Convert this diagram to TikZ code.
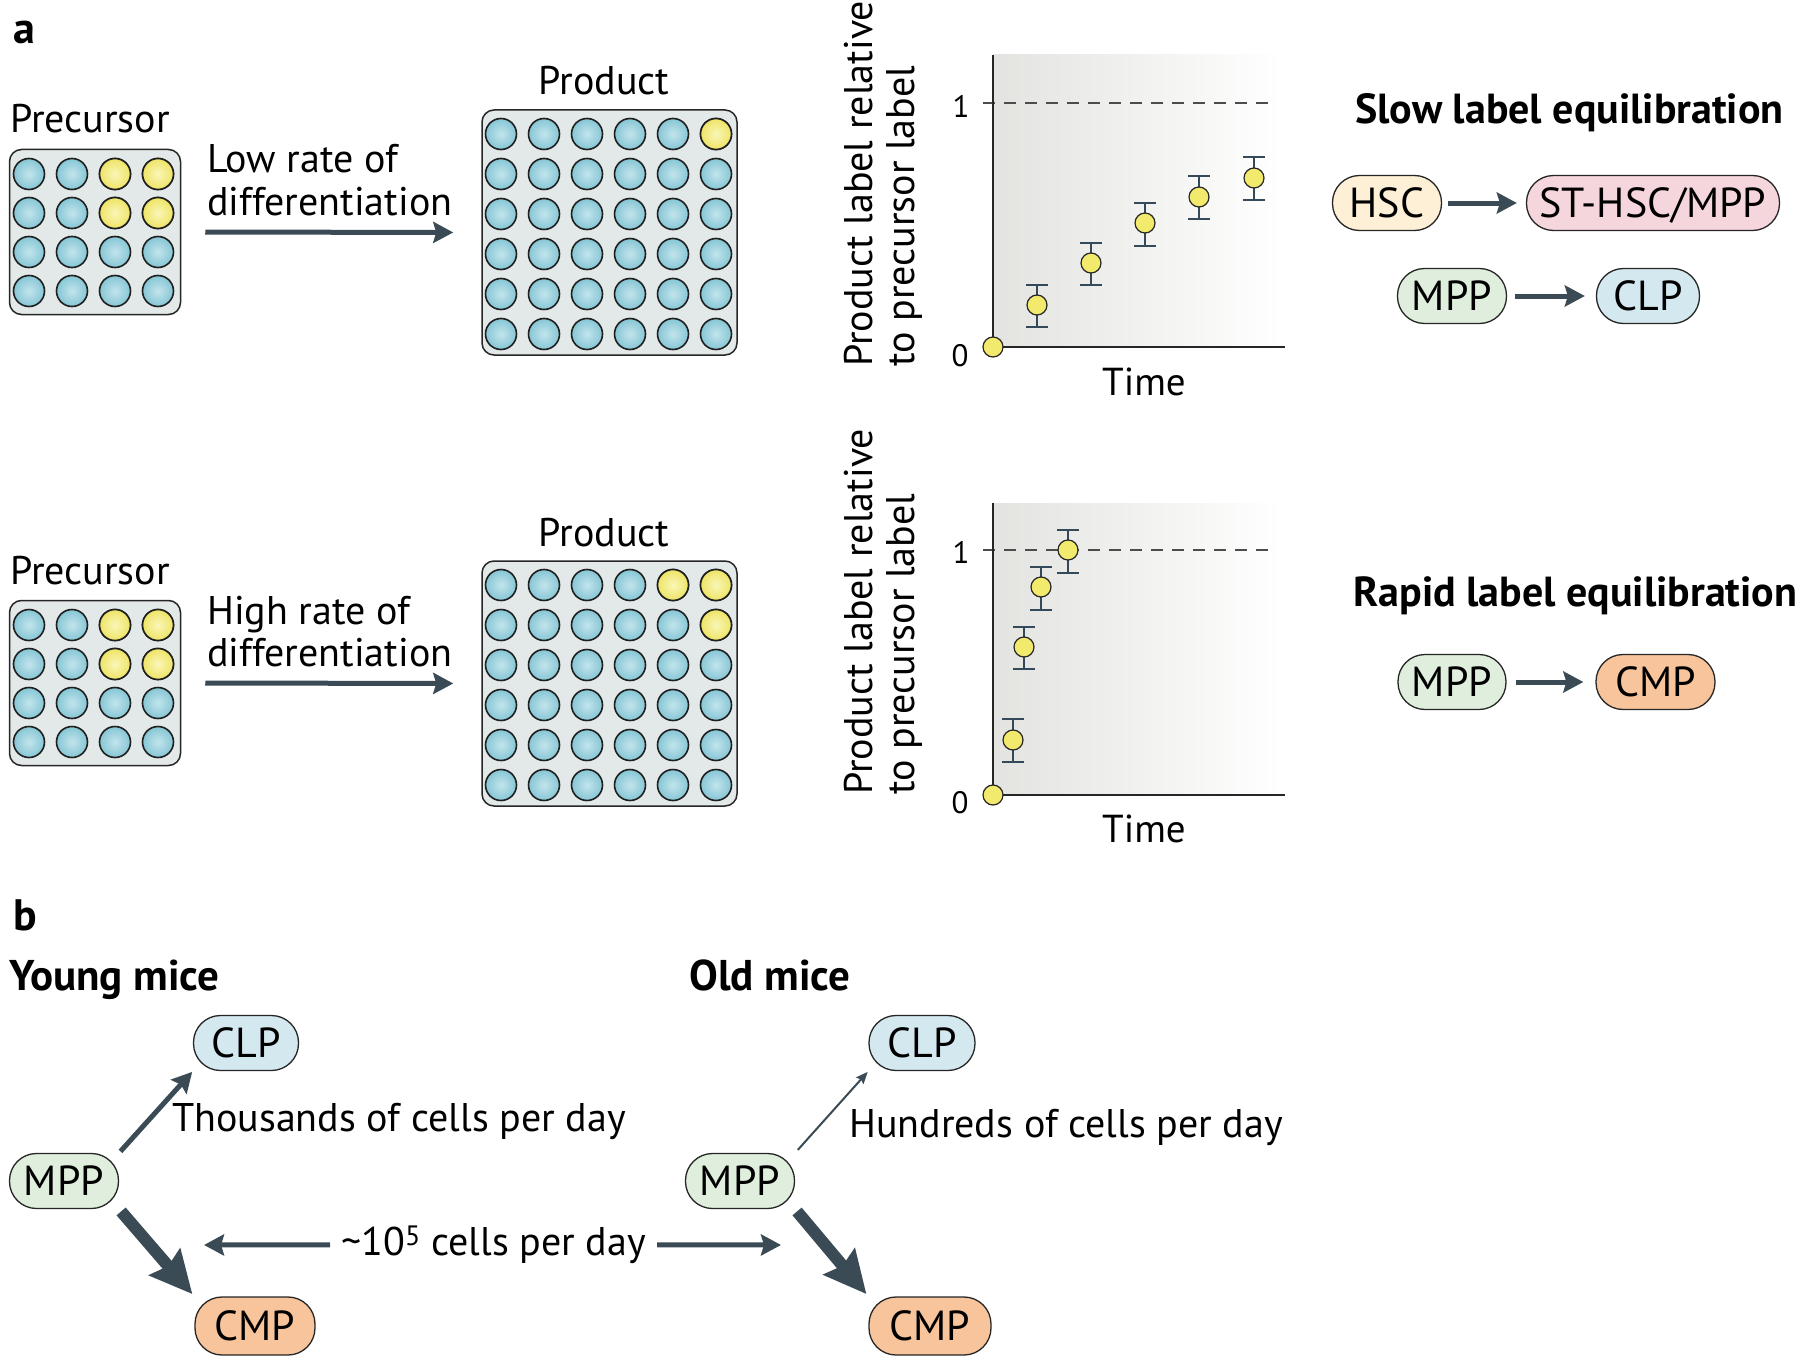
\documentclass[tikz,border=0pt]{standalone}
\usepackage{fontspec}
\setmainfont{PT Sans}
\usetikzlibrary{arrows.meta}
\definecolor{cellblue}{HTML}{86C6D5}
\definecolor{cellbluehi}{HTML}{C2E4EC}
\definecolor{cellyel}{HTML}{EEE466}
\definecolor{cellyelhi}{HTML}{FAF6B8}
\definecolor{boxfill}{HTML}{E3E8E9}
\definecolor{arrowc}{HTML}{3A4B56}
\definecolor{ebarc}{HTML}{34495A}
\definecolor{chartbg}{HTML}{E3E3E0}
\definecolor{ptyel}{HTML}{F2EA6C}
\definecolor{hscfill}{HTML}{FDF0D6}
\definecolor{stfill}{HTML}{F5D6DC}
\definecolor{mppfill}{HTML}{DFEEDD}
\definecolor{clpfill}{HTML}{D3E8EF}
\definecolor{cmpfill}{HTML}{F7C49C}
\newcommand{\fsz}[1]{\fontsize{#1pt}{#1pt}\selectfont}
\newcommand{\cellb}[2]{\shade[inner color=cellbluehi,outer color=cellblue] (#1,#2) circle (15.5pt); \draw[cellrim] (#1,#2) circle (15.5pt);}
\newcommand{\celly}[2]{\shade[inner color=cellyelhi,outer color=cellyel] (#1,#2) circle (15.5pt); \draw[cellrim] (#1,#2) circle (15.5pt);}
\newcommand{\errbar}[3]{\draw[ebarst] (#1,#2) -- (#1,#3) (#1-11,#2) -- (#1+11,#2) (#1-11,#3) -- (#1+11,#3);}
\tikzset{
 txt/.style={inner sep=0pt, font=\fsz{40}},
 bld/.style={inner sep=0pt, font=\fsz{42}\bfseries},
 boxst/.style={draw=black!85, line width=1.5pt, fill=boxfill, rounded corners=12pt, inner sep=0pt},
 cellrim/.style={draw=black!88, line width=1.6pt},
 arr/.style={draw=arrowc, line width=5pt, -{Stealth[length=20pt,width=21pt,inset=3pt]}},
 arrthick/.style={draw=arrowc, line width=12pt, -{Stealth[length=42pt,width=40pt,inset=5pt]}},
 arrthin/.style={draw=arrowc, line width=2pt, -{Stealth[length=12pt,width=10pt,inset=2pt]}},
 pill/.style={draw=black!85, line width=1.3pt, rounded corners=27pt, minimum height=55pt, inner sep=0pt, font=\fsz{42}, text height=29pt, text depth=0pt},
 dot/.style={circle, draw=black!85, fill=ptyel, line width=1.2pt, minimum size=20pt, inner sep=0pt},
 ebarst/.style={draw=ebarc, line width=2.5pt},
 axisst/.style={draw=black!85, line width=1.6pt},
 dashst/.style={draw=black!70, line width=1.3pt, dash pattern=on 12pt off 9pt},
}
\begin{document}
\begin{tikzpicture}[x=1pt,y=-1pt]
\useasboundingbox[fill=white] (0,0) rectangle (1800,1362);

% ---------- panel a label
\node[bld, font=\fsz{44}\bfseries, anchor=base west] (la) at (13,44) {a};

% ---------- boxes
\node[boxst, minimum width=171pt, minimum height=165pt] (pbox1) at (95,232) {};
\node[boxst, minimum width=255pt, minimum height=245pt] (qbox1) at (609.5,232.5) {};
\node[boxst, minimum width=171pt, minimum height=165pt] (pbox2) at (95,683) {};
\node[boxst, minimum width=255pt, minimum height=245pt] (qbox2) at (609.5,683.5) {};

\foreach \dy in {0,451}{
  \foreach \i in {0,...,3}{\foreach \j in {0,...,3}{\cellb{29+43*\i}{174+39*\j+\dy}}}
  \foreach \i in {0,...,5}{\foreach \j in {0,...,5}{\cellb{501+43*\i}{134+40*\j+\dy}}}
  \celly{115}{174+\dy}\celly{158}{174+\dy}\celly{115}{213+\dy}\celly{158}{213+\dy}
}
\celly{716}{134}
\celly{673}{585}\celly{716}{585}\celly{716}{625}

\node[txt, anchor=base west] (prec1) at (10,133) {Precursor};
\node[txt, anchor=base] (prod1) at (604,95) {Product};
\node[txt, anchor=base west] (low1) at (207,173) {Low rate of};
\node[txt, anchor=base west] (dif1) at (207,215) {differentiation};
\draw[arr, shorten <=24pt, shorten >=28pt] (pbox1.east) -- (qbox1.west);

\node[txt, anchor=base west] (prec2) at (10,584) {Precursor};
\node[txt, anchor=base] (prod2) at (604,546) {Product};
\node[txt, anchor=base west] (high2) at (207,624) {High rate of};
\node[txt, anchor=base west] (dif2) at (207,666) {differentiation};
\draw[arr, shorten <=24pt, shorten >=28pt] (pbox2.east) -- (qbox2.west);

% ---------- chart 1
\shade[left color=chartbg, right color=white] (993,55) rectangle (1282,347);
\draw[dashst] (983,103) -- (1275,103);
\draw[axisst] (993,55) -- (993,347) -- (1285,347);
\errbar{1037}{285}{327}\errbar{1091}{243}{285}\errbar{1145}{203}{246}\errbar{1199}{176}{219}\errbar{1254}{157}{200}
\node[dot] (a0) at (993,347) {};
\node[dot] (a1) at (1037,305) {};
\node[dot] (a2) at (1091,263) {};
\node[dot] (a3) at (1145,223) {};
\node[dot] (a4) at (1199,197) {};
\node[dot] (a5) at (1254,178) {};
\node[txt, font=\fsz{31}] (c1one) at (961,106) {1};
\node[txt, font=\fsz{31}] (c1zero) at (960,356) {0};
\node[txt, font=\fsz{39}, anchor=base] (c1time) at (1144,395) {Time};
\node[txt, font=\fsz{40}, rotate=90, anchor=base west] (c1ya) at (872,367) {Product label relative};
\node[txt, font=\fsz{40}, rotate=90, anchor=base west] (c1yb) at (914,367) {to precursor label};

% ---------- chart 2
\shade[left color=chartbg, right color=white] (993,503) rectangle (1282,795);
\draw[dashst] (983,550) -- (1275,550);
\draw[axisst] (993,503) -- (993,795) -- (1285,795);
\errbar{1013}{719}{762}\errbar{1024}{627}{669}\errbar{1041}{567}{610}\errbar{1068}{530}{573}
\node[dot] (b0) at (993,795) {};
\node[dot] (b1) at (1013,740) {};
\node[dot] (b2) at (1024,647) {};
\node[dot] (b3) at (1041,587) {};
\node[dot] (b4) at (1068,550) {};
\node[txt, font=\fsz{31}] (c2one) at (961,552) {1};
\node[txt, font=\fsz{31}] (c2zero) at (960,803) {0};
\node[txt, font=\fsz{39}, anchor=base] (c2time) at (1144,842) {Time};
\node[txt, font=\fsz{40}, rotate=90, anchor=base west] (c2ya) at (872,795) {Product label relative};
\node[txt, font=\fsz{40}, rotate=90, anchor=base west] (c2yb) at (914,795) {to precursor label};

% ---------- right side
\node[bld, anchor=base west] (slow) at (1355,124) {Slow label equilibration};
\node[pill, fill=hscfill, minimum width=109pt] (hsc) at (1387,203) {HSC};
\node[pill, fill=stfill, minimum width=253pt] (st) at (1653,203) {ST-HSC/MPP};
\draw[arr, shorten <=6pt, shorten >=9pt] (hsc) -- (st);
\node[pill, fill=mppfill, minimum width=109pt] (mpp1) at (1452,296) {MPP};
\node[pill, fill=clpfill, minimum width=103pt] (clp1) at (1648,296) {CLP};
\draw[arr, shorten <=8pt, shorten >=11pt] (mpp1) -- (clp1);

\node[bld, anchor=base west] (rapid) at (1353,606) {Rapid label equilibration};
\node[pill, fill=mppfill, minimum width=108pt] (mpp2) at (1452,682) {MPP};
\node[pill, fill=cmpfill, minimum width=119pt] (cmp1) at (1655.5,682) {CMP};
\draw[arr, shorten <=9pt, shorten >=12pt] (mpp2) -- (cmp1);

% ---------- panel b
\node[bld, font=\fsz{44}\bfseries, anchor=base west] (lb) at (13,930) {b};
\node[bld, font=\fsz{43}\bfseries, anchor=base west] (young) at (9,990) {Young mice};
\node[bld, font=\fsz{43}\bfseries, anchor=base west] (old) at (689,990) {Old mice};

\node[pill, fill=clpfill, minimum width=105pt] (yclp) at (246,1043) {CLP};
\node[pill, fill=mppfill, minimum width=109pt] (ympp) at (64,1181) {MPP};
\node[pill, fill=cmpfill, minimum width=120pt, minimum height=58pt] (ycmp) at (255,1326) {CMP};
\node[txt, anchor=base west] (thou) at (172,1131) {Thousands of cells per day};
\draw[arr, shorten <=2pt, shorten >=1pt] (ympp.north east) -- (yclp.south west);
\draw[arrthick, shorten <=3pt, shorten >=3pt] (ympp.south east) -- (ycmp.north west);

\node[pill, fill=clpfill, minimum width=106pt] (oclp) at (922,1043) {CLP};
\node[pill, fill=mppfill, minimum width=109pt] (ompp) at (740,1181) {MPP};
\node[pill, fill=cmpfill, minimum width=122pt, minimum height=58pt] (ocmp) at (930,1326) {CMP};
\node[txt, anchor=base west] (hund) at (849,1137) {Hundreds of cells per day};
\draw[arrthin, shorten <=4pt, shorten >=1pt] (ompp.north east) -- (oclp.south west);
\draw[arrthick, shorten <=3pt, shorten >=3pt] (ompp.south east) -- (ocmp.north west);

\node[txt, anchor=base west] (tenfive) at (341,1255) {\textasciitilde10\textsuperscript{5} cells per day};
\coordinate (hl) at (204,1245);
\coordinate (hr) at (781,1245);
\draw[arr, shorten <=11pt] (tenfive.west) -- (hl);
\draw[arr, shorten <=11pt] (tenfive.east) -- (hr);
\end{tikzpicture}
\end{document}
